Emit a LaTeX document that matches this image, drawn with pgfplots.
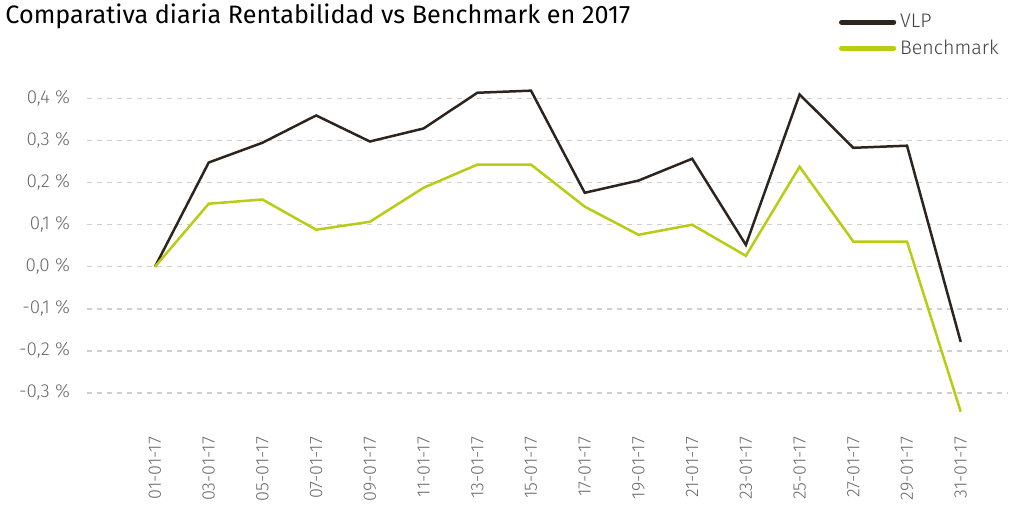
\documentclass[border=0pt]{standalone}
\usepackage{pgfplots}
\pgfplotsset{compat=1.18}
\usepackage{fontspec}
\setmainfont{Fira Sans}[UprightFont=* Light]
\newfontfamily\titlefont{Fira Sans}
\definecolor{vlp}{HTML}{2E241E}
\definecolor{bench}{HTML}{B8CC14}
\definecolor{gridc}{HTML}{D0D0D0}
\definecolor{tickc}{HTML}{6A6A6A}
\begin{document}
\begin{tikzpicture}
\useasboundingbox (0,0) rectangle (505.5pt,-255.5pt);
\node[anchor=base west, inner sep=0pt] at (2.5pt,-11.5pt) {\titlefont\fontsize{12.6}{14}\selectfont Comparativa diaria Rentabilidad vs Benchmark en 2017};
\begin{axis}[
    at={(43.5pt,-209pt)}, anchor=south west,
    scale only axis,
    width=460.5pt, height=166pt,
    xmin=-1.266, xmax=15.88,
    ymin=-0.36, ymax=0.43,
    axis line style={draw=none},
    major tick style={draw=none},
    ytick={-0.3,-0.2,-0.1,0,0.1,0.2,0.3,0.4},
    yticklabels={{-0,3 \%},{-0,2 \%},{-0,1 \%},{0,0 \%},{0,1 \%},{0,2 \%},{0,3 \%},{0,4 \%}},
    ymajorgrids=true,
    grid style={gridc, line width=0.75pt, dash pattern=on 2.5pt off 2.5pt},
    xtick={0,...,15},
    xticklabels={01-01-17,03-01-17,05-01-17,07-01-17,09-01-17,11-01-17,13-01-17,15-01-17,17-01-17,19-01-17,21-01-17,23-01-17,25-01-17,27-01-17,29-01-17,31-01-17},
    xticklabel style={rotate=90, anchor=east, font=\fontsize{9}{10}\selectfont, text=tickc},
    yticklabel style={font=\fontsize{9.4}{10}\selectfont, text=tickc},
    xticklabel shift=6pt,
    yticklabel shift=5pt,
    legend style={at={(0.9946,1.23)}, anchor=north east, draw=none, fill=none,
        font=\fontsize{9.8}{11}\selectfont, text=black!75, row sep=0.5pt, inner sep=0pt},
    legend cell align=left,
    legend image code/.code={\draw[#1, line width=2.6pt, line cap=round] (0pt,0pt) -- (26pt,0pt);},
]
\addplot[vlp, line width=1.25pt] coordinates {
(0,0) (1,0.248) (2,0.295) (3,0.360) (4,0.298) (5,0.329) (6,0.414) (7,0.419)
(8,0.176) (9,0.205) (10,0.257) (11,0.052) (12,0.410) (13,0.283) (14,0.288) (15,-0.179)
};
\addlegendentry{VLP}
\addplot[bench, line width=1.25pt] coordinates {
(0,0) (1,0.150) (2,0.160) (3,0.088) (4,0.107) (5,0.188) (6,0.243) (7,0.243)
(8,0.143) (9,0.076) (10,0.100) (11,0.026) (12,0.238) (13,0.060) (14,0.060) (15,-0.345)
};
\addlegendentry{Benchmark}
\end{axis}
\end{tikzpicture}
\end{document}
